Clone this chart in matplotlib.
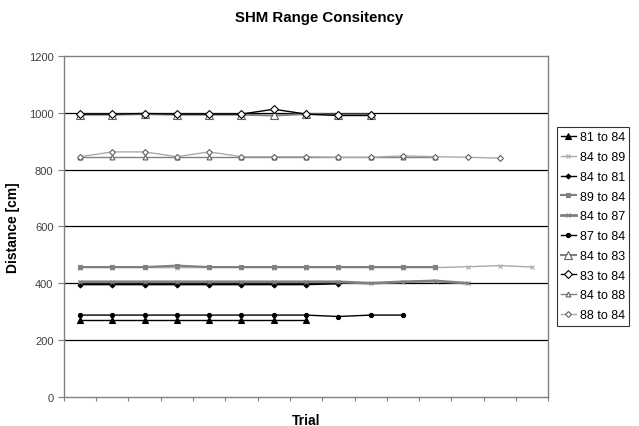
import matplotlib
matplotlib.use("Agg")
import matplotlib.pyplot as plt

plt.rcParams['font.family'] = ['Liberation Sans', 'DejaVu Sans']

# series values (cm), one list per trial run
s81_84 = [272, 272, 272, 272, 272, 272, 272, 272]
s84_89 = [455, 455, 455, 455, 455, 455, 455, 455, 455, 455, 455, 455, 458, 462, 457]
s84_81 = [395, 395, 395, 395, 395, 395, 395, 395, 398]
s89_84 = [457, 457, 457, 462, 457, 457, 457, 457, 457, 457, 457, 457]
s84_87 = [405, 405, 405, 405, 405, 405, 405, 405, 405, 400, 405, 408, 400]
s87_84 = [288, 288, 288, 288, 288, 288, 288, 288, 283, 288, 288]
s84_83 = [993, 993, 995, 993, 993, 993, 990, 995, 993, 993]
s83_84 = [995, 995, 997, 995, 995, 995, 1012, 995, 990, 990]
s84_88 = [845, 845, 845, 845, 845, 845, 845, 845, 845, 845, 845, 845]
s88_84 = [845, 862, 862, 845, 862, 845, 845, 845, 843, 843, 848, 845, 843, 840]

labels = ['81 to 84', '84 to 89', '84 to 81', '89 to 84', '84 to 87',
          '87 to 84', '84 to 83', '83 to 84', '84 to 88', '88 to 84']
series = [s81_84, s84_89, s84_81, s89_84, s84_87,
          s87_84, s84_83, s83_84, s84_88, s88_84]
n_trials = 15

# excel-like grayscale styles: (line colour, marker, size, face colour, line width)
styles = [
    ('black', '^', 4, 'black', 1.0),
    ('#aaaaaa', 'x', 3, '#aaaaaa', 1.0),
    ('black', 'D', 2.5, 'black', 1.0),
    ('#808080', 's', 3, '#808080', 1.5),
    ('#808080', 'x', 2.5, '#404040', 2.0),
    ('black', 'o', 3, 'black', 1.0),
    ('#808080', '^', 5.5, 'white', 1.5),
    ('black', 'D', 4.5, 'white', 1.0),
    ('#808080', '^', 3.5, 'white', 1.0),
    ('#aaaaaa', 'D', 3, 'white', 1.0),
]

fig = plt.figure(figsize=(6.39, 4.27), dpi=100)
ax = fig.add_axes([0.100, 0.068, 0.758, 0.799])

for vals, lab, (c, m, ms, fc, lw) in zip(series, labels, styles):
    xs = [i + 0.5 for i in range(len(vals))]
    mec = c if fc != 'white' else ('#606060' if c != 'black' else 'black')
    ax.plot(xs, vals, color=c, lw=lw, marker=m, markersize=ms,
            markerfacecolor=fc, markeredgecolor=mec, markeredgewidth=0.8, label=lab)

ax.set_xlim(0, n_trials)
ax.set_ylim(0, 1200)
ax.set_yticks(range(0, 1201, 200))
ax.set_xticks(range(0, n_trials + 1))
ax.set_xticklabels([])
for y in range(200, 1200, 200):
    ax.axhline(y, color='black', lw=0.9, zorder=0)

for side in ['left', 'right', 'top', 'bottom']:
    ax.spines[side].set_color('#808080')
    ax.spines[side].set_linewidth(1.0)
ax.tick_params(axis='y', direction='out', length=4, color='#808080', labelsize=8, labelcolor='#404040')
ax.tick_params(axis='x', direction='out', length=3, color='#808080')

ax.set_xlabel('Trial', fontsize=10, fontweight='bold', labelpad=5)
ax.set_ylabel('Distance [cm]', fontsize=10, fontweight='bold', labelpad=6)
fig.suptitle('SHM Range Consitency', fontsize=10.8, fontweight='bold', y=0.975)

leg = ax.legend(loc='upper left', bbox_to_anchor=(0.871, 0.70), bbox_transform=fig.transFigure,
                fontsize=9, frameon=True, fancybox=False, edgecolor='black',
                handlelength=1.2, borderpad=0.35, labelspacing=0.62, handletextpad=0.3,
                borderaxespad=0)
leg.get_frame().set_linewidth(0.8)

fig.savefig('out.png', dpi=100)
